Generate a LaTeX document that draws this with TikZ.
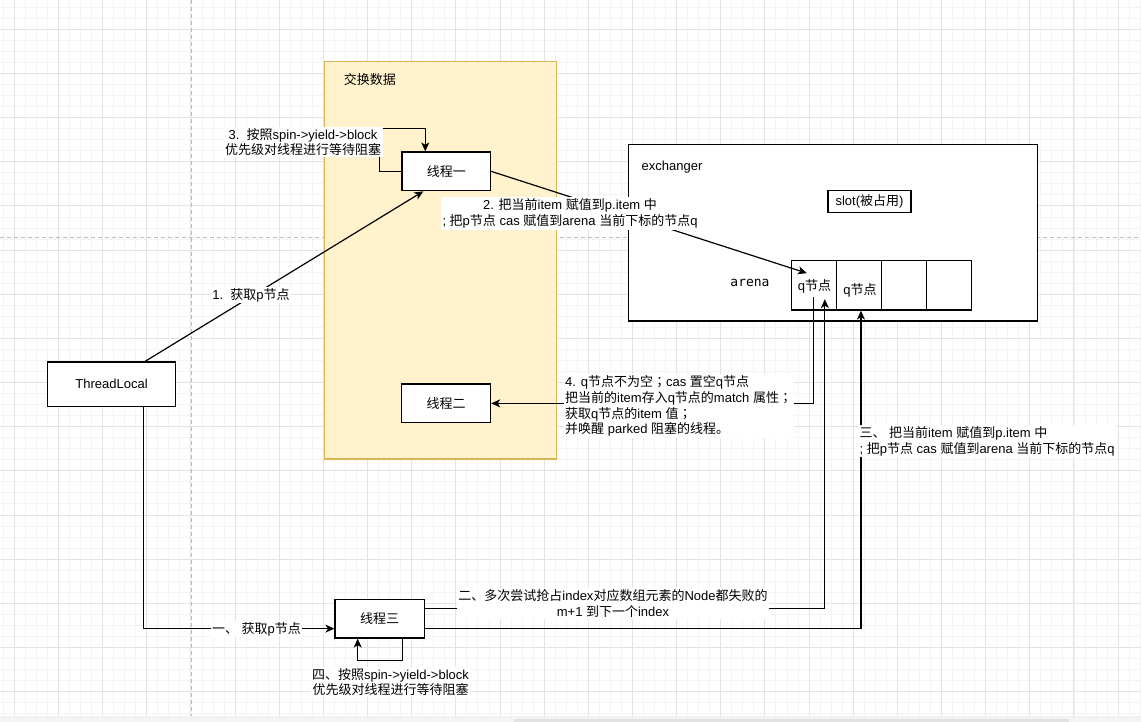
\documentclass[tikz,border=0pt]{standalone}
\usepackage{fontspec}
\setmainfont{Liberation Sans}
\newfontfamily\cjk{Noto Sans CJK SC}
\newfontfamily\cjkp{Noto Sans CJK TC}
\newfontfamily\monofont{DejaVu Sans Mono}
\usetikzlibrary{arrows.meta,calc}
\newcommand\zh[1]{{\cjk #1}}
\newcommand\zhsemi{{\cjkp ；}}
\definecolor{gmaj}{HTML}{E3E3E3}
\definecolor{gmin}{HTML}{F4F4F4}
\definecolor{dashgray}{HTML}{BDBDBD}
\definecolor{yfill}{HTML}{FFF2CC}
\definecolor{ydraw}{HTML}{D6B656}
\definecolor{stripgray}{HTML}{F3F3F3}
\definecolor{bargray}{HTML}{E2E2E2}
\begin{document}
\begin{tikzpicture}[x=1pt,y=-1pt,
  every node/.style={font=\fontsize{13}{15.7}\selectfont},
  box/.style={draw=black, fill=white, line width=1.2pt, inner sep=0pt},
  cell/.style={draw=black, fill=white, line width=1.2pt, inner sep=0pt, minimum width=45.1pt, minimum height=49.7pt},
  lbl/.style={fill=white, inner sep=1.5pt},
  txt/.style={inner sep=0pt},
  arr/.style={draw=black, line width=1.2pt, -{Stealth[length=9pt,width=8pt,inset=2.5pt]}},
  gridmin/.style={draw=gmin, line width=0.8pt},
  gridmaj/.style={draw=gmaj, line width=0.9pt},
  dashline/.style={draw=dashgray, line width=1.2pt, dash pattern=on 4pt off 3pt},
]
\useasboundingbox (0,0) rectangle (1141,722);
\fill[white] (0,0) rectangle (1141,722);
% grid
\foreach \i in {0,...,103} \draw[gridmin] ({3.26+\i*11.0375},0) -- ++(0,716);
\foreach \i in {0,...,64} \draw[gridmin] (0,{7.2+\i*11.0375}) -- ++(1141,0);
\foreach \i in {0,...,25} \draw[gridmaj] ({14.3+\i*44.15},0) -- ++(0,716);
\foreach \i in {0,...,15} \draw[gridmaj] (0,{29.3+\i*44.15}) -- ++(1141,0);
% bottom strip
\fill[stripgray] (0,716) rectangle (1141,722);
\fill[bargray] (514,719) rectangle (1069,722);
% dashed guides
\draw[dashline] (191.7,0) -- (191.7,716);
\draw[dashline] (0,237.5) -- (1141,237.5);

% containers
\node[draw=ydraw, fill=yfill, line width=1.2pt, inner sep=0pt, minimum width=232.3pt, minimum height=397.7pt] (xchg) at (440.65,260.15) {};
\node[txt, anchor=west] (xchglbl) at (343.7,80) {\zh{交换数据}};
\node[box, minimum width=408.7pt, minimum height=176.7pt] (ex) at (832.85,232.65) {};
\node[txt, anchor=west] (exlbl) at (641.5,167) {exchanger};
\node[box, minimum width=83pt, minimum height=22pt] (slot) at (869.5,201.7) {slot(\zh{被占用})};
\node[txt] (arenalbl) at (750,283) {\monofont arena};
\node[cell] (c1) at (813.85,285.15) {};
\node[cell] (c2) at (858.95,285.15) {};
\node[cell] (c3) at (904.05,285.15) {};
\node[cell] (c4) at (949.15,285.15) {};
\node[txt] (c1t) at (814.5,286.7) {q\zh{节点}};
\node[txt] (c2t) at (860,290.7) {q\zh{节点}};

% boxes
\node[box, minimum width=88.6pt, minimum height=38.7pt] (t1) at (446.3,171.35) {\zh{线程一}};
\node[box, minimum width=88.8pt, minimum height=38.7pt] (t2) at (446.2,403.35) {\zh{线程二}};
\node[box, minimum width=127.5pt, minimum height=44.3pt] (tl) at (111.55,384.15) {ThreadLocal};
\node[box, minimum width=89.4pt, minimum height=38.7pt] (t3) at (379.7,618.65) {\zh{线程三}};

% connectors
\draw[arr] ($(tl.north)+(33.5,0)$) -- ($(t1.south)+(-23,0)$);
\draw[arr] (t1.east) -- ($(c1.center)+(-7,-12)$);
\draw[arr] (t1.west) -- ++(-22,0) |- ($(t1.north)+(-21,-23)$) -- ($(t1.north)+(-21,0)$);
\draw[arr] ($(c1.center)+(0,12)$) |- (t2.east);
\draw[arr] ($(tl.south)+(32,0)$) |- ($(t3.west)+(0,10)$);
\draw[arr] ($(t3.south)+(23,0)$) -- ++(0,22) -| ($(t3.south)+(-22,0)$);
\draw[arr] ($(t3.east)+(0,-10)$) -| ($(c1.center)+(11,14)$);
\draw[arr] ($(t3.east)+(0,10)$) -| ($(c2.south)+(2,0)$);

% labels
\node[lbl] (l1) at (251,295) {1.\ \ \zh{获取}p\zh{节点}};
\node[lbl, align=center] (l2) at (570,213.5) {2. \zh{把当前}item \zh{赋值到}p.item \zh{中}\\; \zh{把}p\zh{节点} cas \zh{赋值到}arena \zh{当前下标的节点}q};
\node[lbl, align=center] (l3) at (303,142) {3.\ \ \zh{按照}spin->yield->block\\\zh{优先级对线程进行等待阻塞}};
\node[lbl, align=left, anchor=west] (l4) at (563.5,406) {4. q\zh{节点不为空}\zhsemi cas \zh{置空}q\zh{节点}\\\zh{把当前的}item\zh{存入}q\zh{节点的}match \zh{属性}\zhsemi\\\zh{获取}q\zh{节点的}item \zh{值}\zhsemi\\\zh{并唤醒} parked \zh{阻塞的线程。}};
\node[lbl] (l5) at (256.5,629) {\zh{一、}\ \zh{获取}p\zh{节点}};
\node[lbl, align=center] (l6) at (390.5,682) {\zh{四、按照}spin->yield->block\\\zh{优先级对线程进行等待阻塞}};
\node[lbl, align=center] (l7) at (613,603.3) {\zh{二、多次尝试抢占}index\zh{对应数组元素的}Node\zh{都失败的}\\m+1 \zh{到下一个}index};
\node[lbl, align=left, anchor=west] (l8) at (857.9,441.2) {\zh{三、}\ \zh{把当前}item \zh{赋值到}p.item \zh{中}\\; \zh{把}p\zh{节点} cas \zh{赋值到}arena \zh{当前下标的节点}q};
\end{tikzpicture}
\end{document}
